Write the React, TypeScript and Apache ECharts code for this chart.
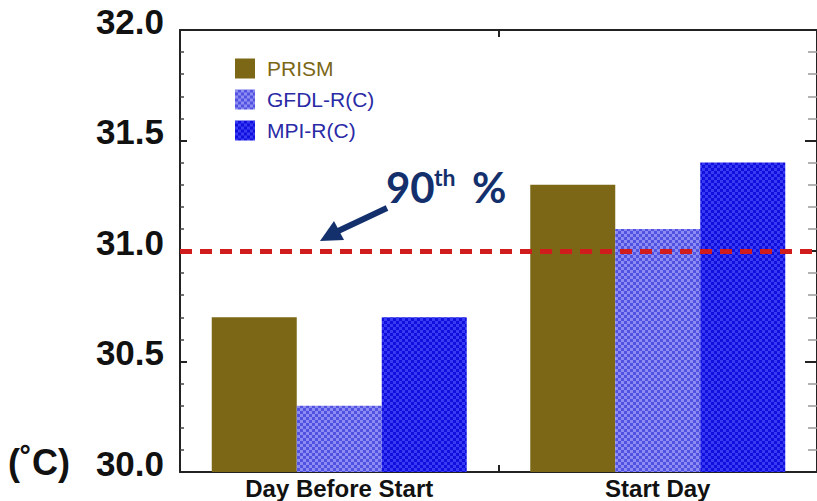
import React, { useEffect, useRef } from "react";
import * as echarts from "echarts";

const categories = ["Day Before Start", "Start Day"];
const seriesNames = ["PRISM", "GFDL-R(C)", "MPI-R(C)"];
const prism = [30.7, 31.3];
const gfdl = [30.3, 31.1];
const mpi = [30.7, 31.4];
const threshold = 31.0;
const yTicks = [30.0, 30.5, 31.0, 31.5, 32.0];

function makePattern(base: string, dot: string) {
  const cv = document.createElement("canvas");
  cv.width = 6;
  cv.height = 6;
  const ctx = cv.getContext("2d")!;
  ctx.fillStyle = base;
  ctx.fillRect(0, 0, 6, 6);
  ctx.fillStyle = dot;
  ctx.fillRect(0, 0, 3, 3);
  ctx.fillRect(3, 3, 3, 3);
  return { image: cv, repeat: "repeat" } as any;
}

export default function App() {
  const ref = useRef<HTMLDivElement>(null);
  useEffect(() => {
    if (!ref.current) return;
    const chart = echarts.init(ref.current, null, { renderer: "svg" });
    const gfdlFill = makePattern("#5252e2", "#8c8cf2");
    const mpiFill = makePattern("#1010de", "#3a3af2");
    const axisCol = "#222";
    const yAxisBase = {
      type: "value",
      min: yTicks[0],
      max: yTicks[yTicks.length - 1],
      interval: 0.5,
      splitLine: { show: false },
      axisLine: { show: true, lineStyle: { color: axisCol, width: 2 } },
      axisTick: { show: true, inside: true, length: 7, lineStyle: { color: axisCol, width: 2 } },
      minorTick: { show: true, splitNumber: 5, length: 4, lineStyle: { color: "#444", width: 1.5 } },
    };
    chart.setOption({
      animation: false,
      backgroundColor: "#fff",
      grid: { left: 180, top: 30, width: 643, height: 442, containLabel: false },
      legend: {
        orient: "vertical",
        left: 230,
        top: 53,
        itemWidth: 20,
        itemHeight: 20,
        itemGap: 10,
        icon: "rect",
        textStyle: { fontFamily: "Liberation Sans", fontSize: 21, padding: [0, 0, 0, 7] },
        data: [
          { name: seriesNames[0], textStyle: { color: "#7b6716" } },
          { name: seriesNames[1], textStyle: { color: "#2a2aa6" } },
          { name: seriesNames[2], textStyle: { color: "#2a2aa6" } },
        ],
      },
      xAxis: [
        {
          type: "category",
          data: categories,
          position: "bottom",
          axisLine: { lineStyle: { color: axisCol, width: 2 } },
          axisTick: { show: true, inside: true, length: 7, lineStyle: { color: axisCol, width: 2 } },
          axisLabel: {
            color: "#111",
            fontFamily: "Liberation Sans",
            fontWeight: "bold",
            fontSize: 24,
            lineHeight: 24,
            margin: 4,
          },
        },
        {
          type: "category",
          data: categories,
          position: "top",
          axisLine: { lineStyle: { color: axisCol, width: 2 } },
          axisTick: { show: true, inside: true, length: 7, lineStyle: { color: axisCol, width: 2 } },
          axisLabel: { show: false },
        },
      ],
      yAxis: [
        {
          ...yAxisBase,
          position: "left",
          axisLabel: {
            color: "#111",
            fontFamily: "Liberation Sans",
            fontWeight: "bold",
            fontSize: 35,
            margin: 16,
            verticalAlign: "bottom",
            lineHeight: 18,
            formatter: (v: number) => v.toFixed(1),
          },
        },
        {
          ...yAxisBase,
          position: "right",
          axisTick: { show: true, inside: true, length: 12, lineStyle: { color: axisCol, width: 2 } },
          minorTick: { show: true, splitNumber: 5, length: 9, lineStyle: { color: "#999", width: 1.5 } },
          axisLabel: { show: false },
        },
      ],
      series: [
        {
          name: seriesNames[0],
          type: "bar",
          data: prism,
          barWidth: 85,
          barGap: "0%",
          itemStyle: { color: "#7b6716" },
          markLine: {
            silent: true,
            symbol: "none",
            label: { show: false },
            lineStyle: { color: "#d01c1c", width: 5, type: [12, 8] },
            data: [{ yAxis: threshold }],
          },
          z: 2,
        },
        {
          name: seriesNames[1],
          type: "bar",
          data: gfdl,
          barWidth: 85,
          barGap: "0%",
          itemStyle: { color: gfdlFill },
          z: 2,
        },
        {
          name: seriesNames[2],
          type: "bar",
          data: mpi,
          barWidth: 85,
          barGap: "0%",
          itemStyle: { color: mpiFill },
          z: 2,
        },
      ],
      graphic: [
        {
          type: "text",
          left: 8,
          top: 444,
          style: {
            text: "(˚C)",
            font: "bold 36px 'Liberation Sans'",
            fill: "#111",
          },
        },
        {
          type: "text",
          x: 386,
          y: 166,
          style: { text: "90", font: "bold 42px Lato", fill: "#13306c" },
        },
        {
          type: "text",
          x: 434,
          y: 165,
          style: { text: "th", font: "bold 23px Lato", fill: "#13306c" },
        },
        {
          type: "text",
          x: 472,
          y: 166,
          style: { text: "%", font: "bold 42px Lato", fill: "#13306c" },
        },
        {
          type: "line",
          shape: { x1: 387, y1: 208, x2: 336, y2: 232 },
          style: { stroke: "#13306c", lineWidth: 6 },
        },
        {
          type: "polygon",
          shape: { points: [[320, 241], [344, 240], [334, 221]] },
          style: { fill: "#13306c" },
        },
      ],
    });
    return () => chart.dispose();
  }, []);
  return (
    <div
      ref={ref}
      style={{ position: "fixed", left: 0, top: 0, width: 817, height: 501 }}
    />
  );
}
